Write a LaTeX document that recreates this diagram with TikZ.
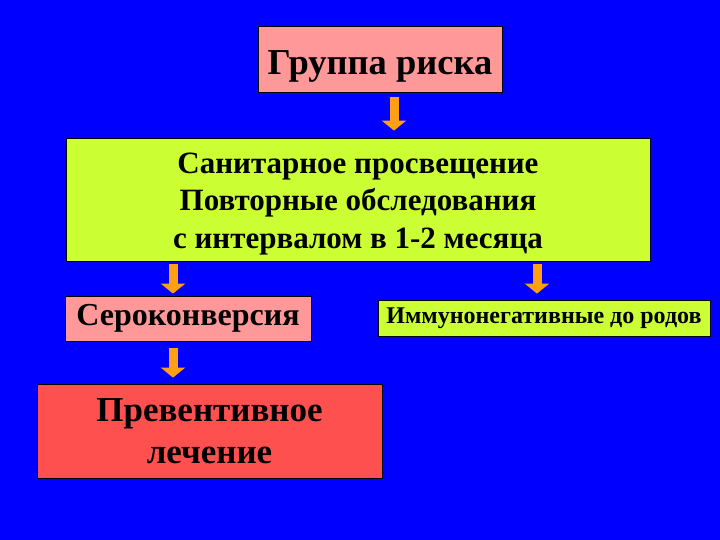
\documentclass[tikz,border=0pt]{standalone}
\usepackage{fontspec}
\setmainfont{Liberation Serif}
\usetikzlibrary{arrows.meta}

\definecolor{slideblue}{RGB}{0,0,255}
\definecolor{boxpink}{RGB}{255,153,153}
\definecolor{boxlime}{RGB}{204,255,51}
\definecolor{boxred}{RGB}{255,80,80}
\definecolor{arroworange}{RGB}{255,160,20}

\begin{document}
\begin{tikzpicture}[x=1pt,y=-1pt,
  box/.style={draw=black,line width=0.8pt,inner sep=0pt,align=center,font=\bfseries},
  flow/.style={line width=9pt,arroworange,-{Triangle[width=24pt,length=10pt]}}]

% Background of the slide
\fill[slideblue] (0,0) rectangle (720,540);

% Boxes
\node[box,fill=boxpink,minimum width=244,minimum height=66,text height=40pt,text depth=8pt,
  font=\bfseries\fontsize{36.5}{40}\selectfont]
  (risk) at (380,59) {Группа риска};
\node[box,fill=boxlime,minimum width=584,minimum height=123,text height=104pt,text depth=7pt,
  font=\bfseries\fontsize{31}{37.5}\selectfont]
  (edu) at (358,199.5) {Санитарное просвещение\\Повторные обследования\\с интервалом в 1-2 месяца};
\node[box,fill=boxpink,minimum width=246,minimum height=45,font=\bfseries\fontsize{32}{36}\selectfont]
  (sero) at (188,318.5) {Сероконверсия};
\node[box,fill=boxlime,minimum width=332,minimum height=36,font=\bfseries\fontsize{24}{28}\selectfont]
  (imm) at (544,318) {Иммунонегативные до родов};
\node[box,fill=boxred,minimum width=345,minimum height=94,font=\bfseries\fontsize{35}{42}\selectfont]
  (prev) at (209.5,431) {Превентивное\\лечение};

% Arrows between the boxes
\draw[flow] ([xshift=14pt,yshift=-5pt]risk.south) -- ([xshift=36pt,yshift=7pt]edu.north);
\draw[flow] ([xshift=-185pt,yshift=-3pt]edu.south) -- ([xshift=-15pt,yshift=2pt]sero.north);
\draw[flow] ([xshift=179pt,yshift=-3pt]edu.south) -- ([xshift=-7pt,yshift=6pt]imm.north);
\draw[flow] ([xshift=-15pt,yshift=-7pt]sero.south) -- ([xshift=-36.5pt,yshift=6pt]prev.north);
\end{tikzpicture}
\end{document}
